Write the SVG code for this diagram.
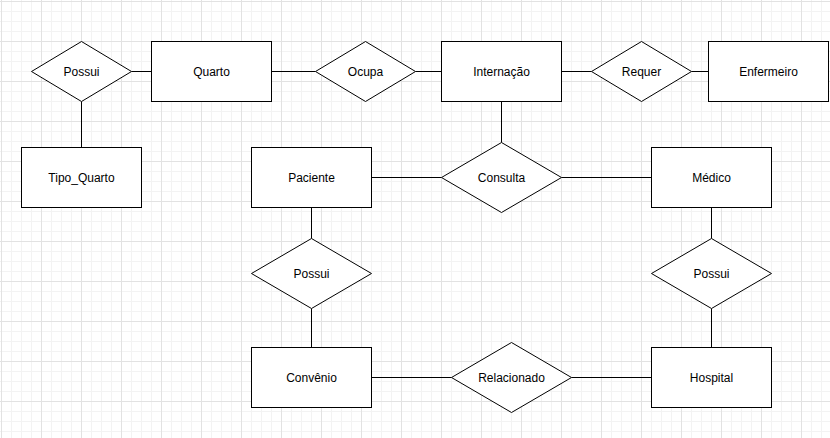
<svg xmlns="http://www.w3.org/2000/svg" width="830" height="438" viewBox="0 0 830 438">
  <defs>
    <pattern id="grid" x="1" y="1" width="40" height="40" patternUnits="userSpaceOnUse">
      <rect x="10" y="0" width="1" height="40" fill="#f3f3f3"/>
      <rect x="20" y="0" width="1" height="40" fill="#f3f3f3"/>
      <rect x="30" y="0" width="1" height="40" fill="#f3f3f3"/>
      <rect x="0" y="10" width="40" height="1" fill="#f3f3f3"/>
      <rect x="0" y="20" width="40" height="1" fill="#f3f3f3"/>
      <rect x="0" y="30" width="40" height="1" fill="#f3f3f3"/>
      <rect x="0" y="0" width="1" height="40" fill="#e2e2e2"/>
      <rect x="0" y="0" width="40" height="1" fill="#e2e2e2"/>
    </pattern>
  </defs>
  <style>
    .ent, .rel { fill: #ffffff; stroke: #000000; stroke-width: 1; }
    .con { stroke: #000000; stroke-width: 1; fill: none; }
    text { font-family: "Liberation Sans", Arial, Helvetica, sans-serif; font-size: 12px; fill: #000000; text-anchor: middle; }
  </style>
  <rect x="0" y="0" width="830" height="438" fill="#ffffff"/>
  <rect x="0" y="0" width="830" height="438" fill="url(#grid)"/>

  <g id="connectors">
    <line class="con" x1="131.5" y1="71.5" x2="151.5" y2="71.5"/>
    <line class="con" x1="81.5" y1="101.5" x2="81.5" y2="147.5"/>
    <line class="con" x1="271.5" y1="71.5" x2="315.5" y2="71.5"/>
    <line class="con" x1="415.5" y1="71.5" x2="441.5" y2="71.5"/>
    <line class="con" x1="561.5" y1="71.5" x2="591.5" y2="71.5"/>
    <line class="con" x1="691.5" y1="71.5" x2="708.5" y2="71.5"/>
    <line class="con" x1="501.5" y1="101.5" x2="501.5" y2="142.5"/>
    <line class="con" x1="371.5" y1="177.5" x2="441.5" y2="177.5"/>
    <line class="con" x1="561.5" y1="177.5" x2="651.5" y2="177.5"/>
    <line class="con" x1="311.5" y1="207.5" x2="311.5" y2="238.5"/>
    <line class="con" x1="311.5" y1="308.5" x2="311.5" y2="347.5"/>
    <line class="con" x1="711.5" y1="207.5" x2="711.5" y2="238.5"/>
    <line class="con" x1="711.5" y1="308.5" x2="711.5" y2="347.5"/>
    <line class="con" x1="371.5" y1="377.5" x2="451.5" y2="377.5"/>
    <line class="con" x1="571.5" y1="377.5" x2="651.5" y2="377.5"/>
  </g>

  <g id="possui-quarto">
    <polygon class="rel" points="31.5,71.5 81.5,41.5 131.5,71.5 81.5,101.5"/>
    <text x="81.5" y="75.5">Possui</text>
  </g>
  <g id="quarto">
    <rect class="ent" x="151.5" y="41.5" width="120" height="60"/>
    <text x="211.5" y="75.5">Quarto</text>
  </g>
  <g id="tipo-quarto">
    <rect class="ent" x="21.5" y="147.5" width="120" height="60"/>
    <text x="81.5" y="181.5">Tipo_Quarto</text>
  </g>
  <g id="ocupa">
    <polygon class="rel" points="315.5,71.5 365.5,41.5 415.5,71.5 365.5,101.5"/>
    <text x="365.5" y="75.5">Ocupa</text>
  </g>
  <g id="internacao">
    <rect class="ent" x="441.5" y="41.5" width="120" height="60"/>
    <text x="501.5" y="75.5">Internação</text>
  </g>
  <g id="requer">
    <polygon class="rel" points="591.5,71.5 641.5,41.5 691.5,71.5 641.5,101.5"/>
    <text x="641.5" y="75.5">Requer</text>
  </g>
  <g id="enfermeiro">
    <rect class="ent" x="708.5" y="41.5" width="120" height="60"/>
    <text x="768.5" y="75.5">Enfermeiro</text>
  </g>
  <g id="paciente">
    <rect class="ent" x="251.5" y="147.5" width="120" height="60"/>
    <text x="311.5" y="181.5">Paciente</text>
  </g>
  <g id="consulta">
    <polygon class="rel" points="441.5,177.5 501.5,142.5 561.5,177.5 501.5,212.5"/>
    <text x="501.5" y="181.5">Consulta</text>
  </g>
  <g id="medico">
    <rect class="ent" x="651.5" y="147.5" width="120" height="60"/>
    <text x="711.5" y="181.5">Médico</text>
  </g>
  <g id="possui-convenio">
    <polygon class="rel" points="251.5,273.5 311.5,238.5 371.5,273.5 311.5,308.5"/>
    <text x="311.5" y="277.5">Possui</text>
  </g>
  <g id="possui-hospital">
    <polygon class="rel" points="651.5,273.5 711.5,238.5 771.5,273.5 711.5,308.5"/>
    <text x="711.5" y="277.5">Possui</text>
  </g>
  <g id="convenio">
    <rect class="ent" x="251.5" y="347.5" width="120" height="60"/>
    <text x="311.5" y="381.5">Convênio</text>
  </g>
  <g id="relacionado">
    <polygon class="rel" points="451.5,377.5 511.5,342.5 571.5,377.5 511.5,412.5"/>
    <text x="511.5" y="381.5">Relacionado</text>
  </g>
  <g id="hospital">
    <rect class="ent" x="651.5" y="347.5" width="120" height="60"/>
    <text x="711.5" y="381.5">Hospital</text>
  </g>
</svg>
